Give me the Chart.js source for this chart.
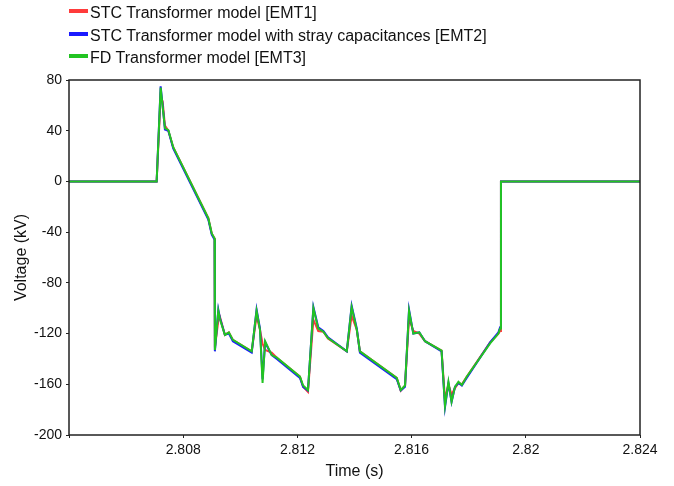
<!DOCTYPE html>
<html>
<head>
<meta charset="utf-8">
<script src="https://cdn.jsdelivr.net/npm/chart.js@4.4.1/dist/chart.umd.min.js"></script>
<style>
  html, body { margin: 0; padding: 0; background: #fff; }
  #wrap { position: relative; width: 674px; height: 486px; }
  #legenda { position: absolute; left: 69px; top: 2px; font: 16px "Liberation Sans", Arial, sans-serif; color: #111; }
  #legenda div { height: 22.5px; line-height: 22px; white-space: nowrap; }
  #legenda span.marca { display: inline-block; width: 19px; height: 4px; margin-right: 2px; vertical-align: 5px; }
</style>
</head>
<body>
<div id="wrap">
  <canvas id="grafico" width="674" height="486"></canvas>
  <div id="legenda"></div>
</div>
<script>
// tempo (s)
var tempos = [2.80400, 2.80707, 2.80721, 2.80728, 2.80736, 2.80748, 2.80765, 2.80888, 2.80900, 2.80910,
    2.80911, 2.80923, 2.80929, 2.80946, 2.80960, 2.80974, 2.81040, 2.81057, 2.81069, 2.81078,
    2.81087, 2.81110, 2.81128, 2.81209, 2.81220, 2.81237, 2.81256, 2.81273, 2.81291, 2.81307,
    2.81373, 2.81390, 2.81408, 2.81419, 2.81548, 2.81562, 2.81577, 2.81591, 2.81606, 2.81627,
    2.81647, 2.81705, 2.81717, 2.81729, 2.81740, 2.81752, 2.81764, 2.81776, 2.81793, 2.81875,
    2.81904, 2.81910, 2.81913, 2.82400];

// tensao (kV) de cada modelo
var emt1 = [0, 0, 67, 63, 44, 40, 27, -29, -41, -45,
    -131, -110, -107, -121, -119, -125, -134, -106, -117, -128,
    -133, -135, -139, -154, -162, -166, -109, -118, -118.5, -124,
    -134, -106, -117, -134, -155, -165, -161, -108, -118, -120,
    -126, -133.5, -172, -160, -168, -163, -159, -160, -154, -127,
    -120, -118, 0, 0];

var emt2 = [0, 0, 75, 60, 41, 40, 26, -30, -42, -46,
    -134, -101, -108, -121, -120, -126, -135, -101, -116, -156,
    -127, -137, -140, -155, -162, -165, -99, -115, -118, -123,
    -134, -98, -116, -135, -156, -165, -162, -101, -120, -119,
    -126, -134, -178, -159, -174, -162, -159, -161, -155, -127,
    -119, -115, 0, 0];

var emt3 = [0, 0, 74, 59, 42, 40.5, 27, -29, -41, -45,
    -133, -102, -109, -121, -119, -125, -134, -102, -117, -159,
    -126, -137, -139, -154, -161, -164.5, -100, -116, -118.5, -123.5,
    -134, -99, -117, -134, -155, -164.5, -161, -102, -120, -119,
    -126, -133.5, -177, -158, -173.7, -162, -158, -160.5, -154, -127.7,
    -120, -116, 0, 0];

var nomes = ['STC Transformer model [EMT1]', 'STC Transformer model with stray capacitances [EMT2]', 'FD Transformer model [EMT3]'];
var cores = ['#ff3b3b', '#1a1aff', '#22c422'];

var ticksX = [2.804, 2.808, 2.812, 2.816, 2.82, 2.824];
var rotulosX = ['', '2.808', '2.812', '2.816', '2.82', '2.824'];
var ticksY = [80, 40, 0, -40, -80, -120, -160, -200];

function pontos(valores) {
    var lista = [];
    for (var i = 0; i < tempos.length; i++) {
        lista.push({ x: tempos[i], y: valores[i] });
    }
    return lista;
}

var fonteEixo = { family: '"Liberation Sans", Arial, sans-serif', size: 14 };
var fonteTitulo = { family: '"Liberation Sans", Arial, sans-serif', size: 16 };

// moldura em volta da area do grafico
var moldura = {
    id: 'moldura',
    afterDatasetsDraw: function (chart) {
        var a = chart.chartArea;
        var ctx = chart.ctx;
        ctx.save();
        ctx.strokeStyle = '#222';
        ctx.lineWidth = 1.5;
        ctx.strokeRect(a.left, a.top, a.right - a.left, a.bottom - a.top);
        ctx.restore();
    }
};

var series = [emt1, emt2, emt3];
var datasets = [];
for (var s = 0; s < series.length; s++) {
    datasets.push({
        label: nomes[s],
        data: pontos(series[s]),
        borderColor: cores[s],
        backgroundColor: cores[s],
        borderWidth: 2,
        pointRadius: 0,
        tension: 0,
        order: series.length - s
    });
}

var grafico = new Chart(document.getElementById('grafico'), {
    type: 'line',
    data: { datasets: datasets },
    plugins: [moldura],
    options: {
        responsive: false,
        animation: false,
        layout: { padding: { left: 0, right: 34, top: 80, bottom: 0 } },
        plugins: { legend: { display: false }, tooltip: { enabled: false } },
        scales: {
            x: {
                type: 'linear',
                min: 2.804,
                max: 2.824,
                afterBuildTicks: function (eixo) {
                    eixo.ticks = ticksX.map(function (v) { return { value: v }; });
                },
                afterFit: function (eixo) { eixo.height = 51; },
                ticks: {
                    autoSkip: false,
                    maxRotation: 0,
                    padding: 4,
                    color: '#111',
                    font: fonteEixo,
                    callback: function (v, i) { return rotulosX[i]; }
                },
                grid: { drawOnChartArea: false, tickLength: 3, color: '#222', lineWidth: 1 },
                border: { display: false },
                title: { display: true, text: 'Time (s)', color: '#111', font: fonteTitulo, padding: { top: 0, bottom: 5 } }
            },
            y: {
                min: -200,
                max: 80,
                afterBuildTicks: function (eixo) {
                    eixo.ticks = ticksY.map(function (v) { return { value: v }; });
                },
                afterFit: function (eixo) { eixo.width = 69; },
                ticks: { padding: 4, color: '#111', font: fonteEixo },
                grid: { drawOnChartArea: false, tickLength: 3, color: '#222', lineWidth: 1 },
                border: { display: false },
                title: { display: true, text: 'Voltage (kV)', color: '#111', font: fonteTitulo, padding: { top: 12, bottom: 0 } }
            }
        }
    }
});

// legenda em html, um item por linha
var legenda = document.getElementById('legenda');
for (var k = 0; k < nomes.length; k++) {
    legenda.innerHTML += '<div><span class="marca" style="background:' + cores[k] + '"></span>' + nomes[k] + '</div>';
}
</script>
</body>
</html>
